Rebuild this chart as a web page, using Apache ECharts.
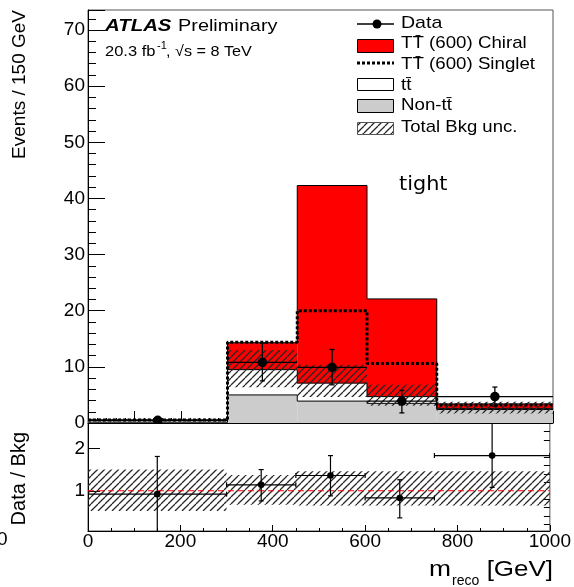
<!DOCTYPE html>
<html>
<head>
<meta charset="utf-8">
<script src="https://cdn.jsdelivr.net/npm/echarts@6/dist/echarts.min.js"></script>
<style>
  html, body { margin: 0; padding: 0; background: #fff; }
  #chart { width: 574px; height: 587px; }
</style>
</head>
<body>
<div id="chart"></div>
<script>
// bins (GeV) and stacked contributions, Events / 150 GeV
var binEdges = [0, 300, 450, 600, 750, 1000];
var nonTT    = [0.15, 5.0, 3.9, 3.5, 2.4];
var ttbar    = [0.35, 4.5, 3.2, 1.2, 0.2];
var chiral   = [0.05, 4.8, 35.2, 17.4, 0.8];   // TT(600) chiral on top of bkg
var singlet  = [0.05, 4.9, 12.9, 5.9, 0.6];    // TT(600) singlet on top of bkg
var bkgUncUp   = [0.50, 0.37, 0.46, 0.46, 0.46]; // relative
var bkgUncDown = [0.48, 0.33, 0.35, 0.35, 0.35];
var dataVal     = [0.46, 10.8, 9.9, 3.9, 4.7];
var dataErrUp   = [0.5, 3.4, 3.2, 1.9, 1.7];
var dataErrDown = [0.46, 3.3, 3.1, 2.1, 1.7];
var ratioVal     = [0.92, 1.14, 1.36, 0.83, 1.83];
var ratioErrUp   = [0.89, 0.36, 0.47, 0.43, 1.1];
var ratioErrDown = [0.92, 0.38, 0.48, 0.47, 0.75];
var ratioRef = 1;
var ratioMajorTicks = [1, 2];
var ratioMinorTicks = [0.2, 0.4, 0.6, 0.8, 1.2, 1.4, 1.6, 1.8, 2.2, 2.4];

var FONT = '"Liberation Sans", Arial, Helvetica, sans-serif';

// cumulative levels
var lvlNon = [], lvlTT = [], lvlChiral = [], lvlSinglet = [], bkgLo = [], bkgHi = [];
var ratLo = [], ratHi = [], binCenter = [];
for (var i = 0; i < nonTT.length; i++) {
    lvlNon.push(nonTT[i]);
    lvlTT.push(nonTT[i] + ttbar[i]);
    lvlChiral.push(lvlTT[i] + chiral[i]);
    lvlSinglet.push(lvlTT[i] + singlet[i]);
    bkgLo.push(lvlTT[i] * (1 - bkgUncDown[i]));
    bkgHi.push(lvlTT[i] * (1 + bkgUncUp[i]));
    ratLo.push(ratioRef - bkgUncDown[i]);
    ratHi.push(ratioRef + bkgUncUp[i]);
    binCenter.push((binEdges[i] + binEdges[i + 1]) / 2);
}

function makeHatch(color, gap) {
    var c = document.createElement('canvas');
    c.width = gap; c.height = gap;
    var g = c.getContext('2d');
    g.strokeStyle = color;
    g.lineWidth = 1.25;
    g.beginPath();
    for (var k = -gap; k <= gap; k += gap) {
        g.moveTo(k, gap);
        g.lineTo(k + gap, 0);
    }
    g.stroke();
    return c;
}
var hatch = { image: makeHatch('#262626', 7), repeat: 'repeat' };

function rectSeries(lo, hi, fill, gi, z) {
    var data = [];
    for (var i = 0; i < lo.length; i++) data.push([binEdges[i], binEdges[i + 1], lo[i], hi[i]]);
    return {
        type: 'custom', xAxisIndex: gi, yAxisIndex: gi === 0 ? 0 : 1,
        clip: true, silent: true, z: z,
        encode: { x: [0, 1], y: [2, 3] },
        renderItem: function (params, api) {
            var p0 = api.coord([api.value(0), api.value(3)]);
            var p1 = api.coord([api.value(1), api.value(2)]);
            return {
                type: 'rect',
                shape: { x: p0[0], y: p0[1], width: p1[0] - p0[0], height: p1[1] - p0[1] },
                style: { fill: fill, stroke: null }
            };
        },
        data: data
    };
}

function stepSeries(levels, style, z) {
    var pts = [];
    for (var i = 0; i < levels.length; i++) pts.push([binEdges[i], levels[i]]);
    pts.push([binEdges[levels.length], levels[levels.length - 1]]);
    return {
        type: 'line', xAxisIndex: 0, yAxisIndex: 0, step: 'end', symbol: 'none',
        silent: true, z: z, lineStyle: style, data: pts
    };
}

function pointSeries(val, up, dn, gi, opt, z) {
    var data = [];
    for (var i = 0; i < val.length; i++) {
        data.push([binCenter[i], val[i], val[i] - dn[i], val[i] + up[i], binEdges[i], binEdges[i + 1]]);
    }
    return {
        type: 'custom', xAxisIndex: gi, yAxisIndex: gi === 0 ? 0 : 1,
        clip: true, silent: true, z: z,
        encode: { x: 0, y: 1 },
        renderItem: function (params, api) {
            var c = api.coord([api.value(0), api.value(1)]);
            var lo = api.coord([api.value(0), api.value(2)]);
            var hi = api.coord([api.value(0), api.value(3)]);
            var l = api.coord([api.value(4), api.value(1)]);
            var r = api.coord([api.value(5), api.value(1)]);
            var st = { stroke: '#000', lineWidth: opt.lw };
            var kids = [
                { type: 'line', shape: { x1: l[0], y1: c[1], x2: r[0], y2: c[1] }, style: st },
                { type: 'line', shape: { x1: c[0], y1: lo[1], x2: c[0], y2: hi[1] }, style: st },
                { type: 'line', shape: { x1: c[0] - opt.cap, y1: lo[1], x2: c[0] + opt.cap, y2: lo[1] }, style: st },
                { type: 'line', shape: { x1: c[0] - opt.cap, y1: hi[1], x2: c[0] + opt.cap, y2: hi[1] }, style: st },
                { type: 'circle', shape: { cx: c[0], cy: c[1], r: opt.r }, style: { fill: '#000' } }
            ];
            if (opt.xcap) {
                kids.push({ type: 'line', shape: { x1: l[0], y1: c[1] - opt.xcap, x2: l[0], y2: c[1] + opt.xcap }, style: st });
                kids.push({ type: 'line', shape: { x1: r[0], y1: c[1] - opt.xcap, x2: r[0], y2: c[1] + opt.xcap }, style: st });
            }
            return { type: 'group', children: kids };
        },
        data: data
    };
}

function txt(text, x, y, size, opts) {
    opts = opts || {};
    return {
        type: 'text', x: x, y: y, scaleX: opts.sx || 1, rotation: opts.rot || 0, silent: true, z: 100,
        style: {
            text: text, fill: '#000',
            font: (opts.style || '') + ' ' + size + 'px ' + (opts.family || FONT),
            align: opts.align || 'left', textAlign: opts.align || 'left',
            verticalAlign: 'middle', textVerticalAlign: 'middle'
        }
    };
}

var graphics = [
    txt('ATLAS', 105, 26, 17, { style: 'italic bold', sx: 1.2 }),
    txt('Preliminary', 178, 26, 17, { sx: 1.17 }),
    txt('20.3 fb', 105, 52, 15, { sx: 1.1 }),
    txt('-1', 157, 46, 10, { sx: 1.1 }),
    txt(', \u221As = 8 TeV', 166, 52, 15, { sx: 1.08 }),
    txt('tight', 399, 185, 20, { family: '"DejaVu Sans", sans-serif', sx: 1.04 }),
    txt('Events / 150 GeV', 19.5, 10, 19, { rot: Math.PI / 2, align: 'right' }),
    txt('Data / Bkg', 19.5, 432, 20, { rot: Math.PI / 2, align: 'right' }),
    txt('[GeV]', 553, 570, 22, { align: 'right', sx: 1.18 }),
    txt('reco', 452, 581, 14, { sx: 1.0 }),
    txt('m', 451, 570, 22, { align: 'right', sx: 1.2 }),
    txt('0', -3, 540, 19),
    // legend
    { type: 'line', silent: true, shape: { x1: 357, y1: 24, x2: 394, y2: 24 }, style: { stroke: '#000', lineWidth: 1.3 } },
    { type: 'circle', silent: true, shape: { cx: 377, cy: 24, r: 4.5 }, style: { fill: '#000' } },
    txt('Data', 401, 23.5, 17, { sx: 1.15 }),
    { type: 'rect', silent: true, shape: { x: 357.5, y: 39.5, width: 36, height: 13 }, style: { fill: '#ff0000', stroke: '#000', lineWidth: 1 } },
    txt('TT\u0304 (600) Chiral', 401, 43.5, 17, { sx: 1.1 }),
    { type: 'line', silent: true, shape: { x1: 357, y1: 63, x2: 394, y2: 63 }, style: { stroke: '#000', lineWidth: 3, lineDash: [3, 2] } },
    txt('TT\u0304 (600) Singlet', 401, 64.5, 17, { sx: 1.1 }),
    { type: 'rect', silent: true, shape: { x: 357.5, y: 78.5, width: 36, height: 12 }, style: { fill: '#fff', stroke: '#000', lineWidth: 1 } },
    txt('tt\u0304', 401, 85, 17, { sx: 1.1 }),
    { type: 'rect', silent: true, shape: { x: 357.5, y: 99.5, width: 36, height: 13 }, style: { fill: '#cccccc', stroke: '#000', lineWidth: 1 } },
    txt('Non-tt\u0304', 401, 105.5, 17, { sx: 1.1 }),
    { type: 'rect', silent: true, shape: { x: 357.5, y: 122.5, width: 36, height: 12 }, style: { fill: hatch, stroke: '#555', lineWidth: 1 } },
    txt('Total Bkg unc.', 401, 127, 17, { sx: 1.09 })
];

var chart = echarts.init(document.getElementById('chart'));
var option = {
    animation: false,
    backgroundColor: '#fff',
    grid: [
        { left: 88, top: 10, width: 465, height: 413, show: true, borderColor: '#555', borderWidth: 1 },
        { left: 88, top: 423, width: 465, height: 108, show: true, borderColor: '#555', borderWidth: 1 }
    ],
    xAxis: [
        {
            type: 'value', gridIndex: 0, min: 0, max: 1000, interval: 100,
            axisLine: { lineStyle: { color: '#000' } },
            axisLabel: { show: false },
            axisTick: { inside: true, length: 12, lineStyle: { color: '#000' } },
            minorTick: { show: true, splitNumber: 5, length: 5, lineStyle: { color: '#000' } },
            splitLine: { show: false }
        },
        {
            type: 'value', gridIndex: 1, min: 0, max: 1000, interval: 200,
            axisLine: { lineStyle: { color: '#000' } },
            axisLabel: {
                fontFamily: FONT, fontSize: 19, color: '#000', margin: 1,
                formatter: function (v) { return String(v); }
            },
            axisTick: { inside: true, length: 6, lineStyle: { color: '#000' } },
            minorTick: { show: true, splitNumber: 4, length: 3, lineStyle: { color: '#000' } },
            splitLine: { show: false }
        }
    ],
    yAxis: [
        {
            type: 'value', gridIndex: 0, min: 0, max: 73.56, interval: 10,
            axisLine: { show: true, lineStyle: { color: '#000' } },
            axisLabel: { fontFamily: FONT, fontSize: 19, color: '#000', margin: 3, showMaxLabel: false },
            axisTick: { inside: true, length: 17, lineStyle: { color: '#000' } },
            minorTick: { show: true, splitNumber: 5, length: 8, lineStyle: { color: '#000' } },
            splitLine: { show: false }
        },
        {
            type: 'value', gridIndex: 1, min: 0.05, max: 2.6,
            axisLine: { show: true, lineStyle: { color: '#000' } },
            axisLabel: { fontFamily: FONT, fontSize: 19, color: '#000', margin: 3, customValues: ratioMajorTicks },
            axisTick: { inside: true, length: 12, customValues: ratioMajorTicks, lineStyle: { color: '#000' } },
            splitLine: { show: false }
        },
        {
            type: 'value', gridIndex: 1, min: 0.05, max: 2.6,
            axisLine: { show: false },
            axisLabel: { show: false },
            axisTick: { inside: true, length: 6, customValues: ratioMinorTicks, lineStyle: { color: '#000' } },
            splitLine: { show: false }
        }
    ],
    graphic: graphics,
    series: [
        rectSeries(lvlNon.map(function () { return 0; }), lvlNon, '#cccccc', 0, 2),
        rectSeries(lvlNon, lvlTT, '#ffffff', 0, 2),
        rectSeries(lvlTT, lvlChiral, '#ff0000', 0, 2),
        stepSeries(lvlNon, { color: '#000', width: 1 }, 3),
        stepSeries(lvlTT, { color: '#000', width: 1 }, 3),
        stepSeries(lvlChiral, { color: '#000', width: 1 }, 3),
        rectSeries(bkgLo, bkgHi, hatch, 0, 4),
        stepSeries(lvlSinglet, { color: '#000', width: 3, type: [3, 2] }, 5),
        pointSeries(dataVal, dataErrUp, dataErrDown, 0, { lw: 1.3, cap: 2.5, r: 4.8 }, 6),
        rectSeries(ratLo, ratHi, hatch, 1, 4),
        {
            type: 'line', xAxisIndex: 1, yAxisIndex: 1, symbol: 'none', silent: true, z: 5,
            lineStyle: { color: '#ff0000', width: 1, type: [6, 4] },
            data: [[binEdges[0], ratioRef], [binEdges[binEdges.length - 1], ratioRef]]
        },
        pointSeries(ratioVal, ratioErrUp, ratioErrDown, 1, { lw: 1.2, cap: 2.5, r: 3.3, xcap: 2.5 }, 6)
    ]
};
chart.setOption(option);
</script>
</body>
</html>
